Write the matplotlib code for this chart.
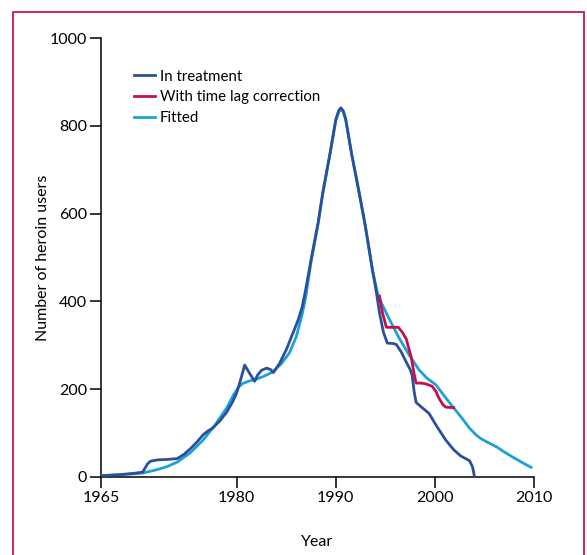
import matplotlib
matplotlib.use('Agg')
import matplotlib.pyplot as plt
from matplotlib.patches import Rectangle

plt.rcParams['font.family'] = ['Lato', 'DejaVu Sans']

# In treatment
treat_year = [1966.3, 1968, 1969.5, 1970.5, 1971.0, 1971.3, 1972, 1973, 1974, 1974.7, 1975.3,
              1976, 1976.6, 1977.1, 1977.6, 1978.3, 1979, 1979.6, 1980, 1980.5, 1980.8, 1981.3,
              1981.8, 1982.1, 1982.5, 1983.0, 1983.4, 1983.7, 1984.3, 1985.0, 1985.8, 1986.2,
              1986.6, 1986.95, 1987.5, 1988.2, 1988.7, 1989.4, 1990.0, 1990.3, 1990.5, 1990.75,
              1991.0, 1991.6, 1992.3, 1992.96, 1993.7, 1994.1, 1994.4, 1994.8, 1995.2, 1995.8,
              1996.1, 1996.6, 1997.1, 1997.5, 1997.7, 1997.9, 1998.1, 1998.6, 1999.4, 2000.2,
              2001.1, 2001.9, 2002.6, 2003.5, 2003.8, 2004.0]
treat_val = [3, 5, 8, 11, 30, 36, 39, 40, 42, 52, 64,
             80, 96, 105, 112, 128, 148, 172, 192, 230, 255, 236,
             218, 232, 243, 248, 245, 238, 258, 290, 335, 358,
             387, 426, 495, 578, 650, 735, 815, 835, 841, 834,
             815, 735, 654, 574, 471, 420, 375, 330, 305, 304,
             302, 285, 262, 245, 232, 195, 170, 160, 145, 115,
             84, 62, 48, 37, 23, 0]

# With time lag correction
lag_year = [1994.4, 1994.7, 1995.1, 1995.7, 1996.3, 1996.7, 1997.1, 1997.4, 1997.6, 1997.9,
            1998.1, 1998.6, 1999.1, 1999.7, 2000.1, 2000.4, 2000.8, 2001.1, 2001.9]
lag_val = [412, 375, 341, 341, 341, 330, 315, 290, 274, 235,
           214, 214, 212, 207, 195, 180, 165, 159, 158]

# Fitted
fit_year = [1966.3, 1968, 1969.5, 1970.5, 1972, 1973, 1974, 1975.3, 1976.6, 1977.8, 1979,
            1979.7, 1980.2, 1980.6, 1981.3, 1982, 1982.8, 1983.6, 1984.5, 1985.3, 1986,
            1986.6, 1987, 1987.5, 1988.2, 1988.7, 1989.4, 1990.0, 1990.3, 1990.5, 1990.75,
            1991.0, 1991.6, 1992.3, 1992.96, 1993.7, 1994.2, 1994.6, 1995.5, 1996.4, 1997.4,
            1998.4, 1999.2, 2000.1, 2001.0, 2001.8, 2002.7, 2003.5, 2004.1, 2004.6, 2005.4,
            2006.2, 2007.0, 2007.8, 2008.8, 2009.7]
fit_val = [3, 5, 7, 9, 17, 24, 34, 55, 84, 118, 158,
           188, 205, 213, 219, 223, 230, 239, 258, 282, 319,
           370, 415, 490, 575, 648, 735, 812, 832, 838, 832,
           813, 735, 654, 574, 471, 420, 396, 355, 316, 278,
           244, 225, 210, 183, 160, 135, 111, 97, 88, 78,
           69, 57, 46, 33, 22]

tick_pos = [1966.3, 1980, 1990, 2000, 2010]
tick_lab = ['1965', '1980', '1990', '2000', '2010']

fig = plt.figure(figsize=(5.87, 5.55), dpi=100)
ax = fig.add_axes([101 / 587, 78 / 555, 433 / 587, 439 / 555])

# rahmen
fig.patches.append(Rectangle((13 / 587, -0.1), 571 / 587, (555 - 12) / 555 + 0.1,
                             transform=fig.transFigure, fill=False,
                             edgecolor='#c8174f', linewidth=1.3))

ax.plot(treat_year, treat_val, color='#2a4f9c', linewidth=2, label='In treatment', zorder=3)
ax.plot(lag_year, lag_val, color='#c4104a', linewidth=2, label='With time lag correction', zorder=4)
ax.plot(fit_year, fit_val, color='#1aa3d4', linewidth=2, label='Fitted', zorder=2)

ax.set_xlim(1966.3, 2010)
ax.set_ylim(0, 1000)
ax.set_xticks(tick_pos)
ax.set_xticklabels(tick_lab)
ax.set_yticks([0, 200, 400, 600, 800, 1000])
ax.spines['top'].set_visible(False)
ax.spines['right'].set_visible(False)
for s in ['left', 'bottom']:
    ax.spines[s].set_linewidth(1.1)
ax.tick_params(direction='out', length=8, width=1.1, labelsize=11.5, pad=2)
ax.set_xlabel('Year', fontsize=11.5, labelpad=22)
ax.set_ylabel('Number of heroin users', fontsize=11.5, labelpad=0)

handles, labels = ax.get_legend_handles_labels()
ax.legend(handles, labels, loc='upper left', bbox_to_anchor=(0.06, 0.945), frameon=False,
          fontsize=10.8, handlelength=1.4, handletextpad=0.3, labelspacing=0.45,
          borderpad=0)

fig.savefig('out.png', dpi=100)
